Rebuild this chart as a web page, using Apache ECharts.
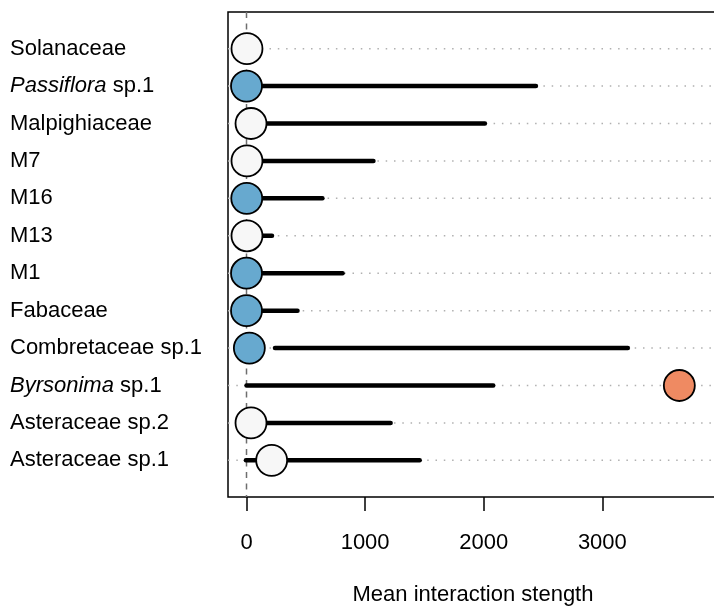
<!DOCTYPE html>
<html>
<head>
<meta charset="UTF-8">
<title>Mean interaction strength</title>
<script src="https://cdn.jsdelivr.net/npm/echarts@6/dist/echarts.min.js"></script>
<style>
body {
    margin: 0;
    padding: 0;
    background: #fff;
}
#main {
    width: 714px;
    height: 607px;
}
</style>
</head>
<body>
<div id="main"></div>
<script>
// rows from top to bottom
var categories = ['Solanaceae', 'Passiflora sp.1', 'Malpighiaceae', 'M7', 'M16', 'M13', 'M1',
    'Fabaceae', 'Combretaceae sp.1', 'Byrsonima sp.1', 'Asteraceae sp.2', 'Asteraceae sp.1'];
var italicPart = {'Passiflora sp.1': 'Passiflora', 'Byrsonima sp.1': 'Byrsonima'};
var meanValues = [4, 0, 38, 4, 2, 4, 0, 0, 24, 3649, 38, 212];
var lowValues  = [0, 0, 0, 0, 0, 0, 0, 0, 240, 0, 0, -5];
var highValues = [0, 2440, 2010, 1070, 640, 215, 810, 430, 3215, 2080, 1215, 1460];
var groups = ['none', 'up', 'none', 'none', 'up', 'none', 'up', 'up', 'up', 'down', 'none', 'none'];
var xTicks = [0, 1000, 2000, 3000];

var groupColor = {none: '#f7f7f7', up: '#67a9cf', down: '#ef8a62'};
var FONT = '"Liberation Sans", Arial, Helvetica, sans-serif';

var chart = echarts.init(document.getElementById('main'));

var rowIdx = categories.map(function (c, i) { return i + 1; });
var segData = categories.map(function (c, i) { return [lowValues[i], highValues[i], i + 1]; });
var dotData = categories.map(function (c, i) {
    return {value: [meanValues[i], i + 1], itemStyle: {color: groupColor[groups[i]]}};
});

var option = {
    animation: false,
    grid: {
        left: 228,
        top: 12,
        width: 490,
        height: 485,
        outerBoundsMode: 'none',
        containLabel: false,
        show: true,
        borderColor: '#000',
        borderWidth: 1.5,
        backgroundColor: 'transparent'
    },
    xAxis: {
        type: 'value',
        min: -156,
        max: 3975,
        axisLine: {show: false},
        splitLine: {show: false},
        axisTick: {
            show: true,
            length: 14,
            customValues: xTicks,
            lineStyle: {color: '#000', width: 1.5}
        },
        axisLabel: {
            customValues: xTicks,
            margin: 35,
            color: '#000',
            fontSize: 22,
            fontFamily: FONT,
            formatter: function (v) { return String(v); }
        },
        name: 'Mean interaction stength',
        nameLocation: 'middle',
        nameGap: 87,
        nameTextStyle: {color: '#000', fontSize: 22, fontFamily: FONT}
    },
    yAxis: {
        type: 'value',
        inverse: true,
        min: 0.02,
        max: 12.98,
        axisLine: {show: false},
        axisTick: {show: false},
        splitLine: {show: false},
        axisLabel: {
            customValues: rowIdx,
            align: 'left',
            margin: 218,
            color: '#000',
            fontSize: 22,
            fontFamily: FONT,
            formatter: function (v) {
                var name = categories[Math.round(v) - 1];
                if (!name) return '';
                var it = italicPart[name];
                if (it) return '{i|' + it + '}' + name.slice(it.length);
                return name;
            },
            rich: {
                i: {fontStyle: 'italic', fontSize: 22, fontFamily: FONT, color: '#000'}
            }
        }
    },
    series: [
        {
            // dotted guide lines for each row
            type: 'custom',
            silent: true,
            data: rowIdx,
            renderItem: function (params, api) {
                var cs = params.coordSys;
                var y = api.coord([0, api.value(0)])[1];
                return {
                    type: 'line',
                    shape: {x1: cs.x, y1: y, x2: cs.x + cs.width, y2: y},
                    style: {stroke: '#b0b0b0', lineWidth: 1.5, lineDash: [1.5, 6.8]}
                };
            },
            z: 1
        },
        {
            // dashed zero line
            type: 'custom',
            silent: true,
            data: [0],
            renderItem: function (params, api) {
                var cs = params.coordSys;
                var x = api.coord([api.value(0), 1])[0];
                return {
                    type: 'line',
                    shape: {x1: x, y1: cs.y, x2: x, y2: cs.y + cs.height},
                    style: {stroke: '#6e6e6e', lineWidth: 1.5, lineDash: [6, 5.5]}
                };
            },
            z: 2
        },
        {
            // interval segments
            type: 'custom',
            silent: true,
            data: segData,
            renderItem: function (params, api) {
                var lo = api.value(0), hi = api.value(1), row = api.value(2);
                if (hi <= lo) return null;
                var p1 = api.coord([lo, row]);
                var p2 = api.coord([hi, row]);
                return {
                    type: 'line',
                    shape: {x1: p1[0], y1: p1[1], x2: p2[0], y2: p2[1]},
                    style: {stroke: '#000', lineWidth: 4.5, lineCap: 'round'}
                };
            },
            z: 3
        },
        {
            type: 'scatter',
            data: dotData,
            symbol: 'circle',
            symbolSize: 31,
            itemStyle: {borderColor: '#000', borderWidth: 1.8, opacity: 1},
            z: 4
        }
    ]
};

chart.setOption(option);
</script>
</body>
</html>
